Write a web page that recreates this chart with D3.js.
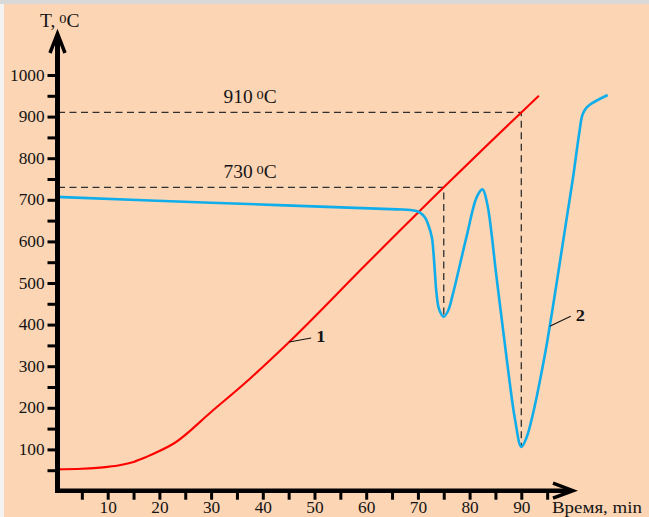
<!DOCTYPE html>
<html>
<head>
<meta charset="utf-8">
<script src="https://cdn.jsdelivr.net/npm/d3@7"></script>
<style>
  html, body { margin: 0; padding: 0; background: #ffffff; }
  svg { display: block; }
  text { font-family: "Liberation Serif", "Times New Roman", serif; fill: #141414; }
</style>
</head>
<body>
<svg id="chart" width="649" height="517"></svg>
<script>
// Curve 1: furnace heating (time in min, temperature in °C)
const heatTime = [0, 5, 10, 12.5, 15, 17.5, 20, 23, 30, 37.5, 45, 60, 75, 90, 93.4];
const heatTemp = [52, 53.5, 58, 62.5, 70, 82, 96, 116, 190, 270, 357, 545, 730, 910, 950];

// Curve 2: differential signal with the two transformation dips
const dtaTime = [0, 30, 66, 68.5, 69.7, 70.4, 71.4, 72, 72.7, 73, 73.3, 73.6, 74.1, 75, 75.8, 76.8, 79.4, 81.4, 82.5,
                 83.4, 85.2, 87.2, 88.8, 90, 91, 92, 93, 94, 95, 96, 97, 98, 99, 100, 101.2, 101.8, 102.4, 103.3, 106.7];
const dtaTemp = [707, 693, 677, 675.5, 673, 669, 657, 640, 610, 575, 523, 475, 437, 419, 432, 475, 611, 707, 725,
                 691, 515, 315, 171, 106, 128, 172, 228, 290, 358, 434, 513, 593, 673, 753, 860, 903, 918, 929, 952];

// Axis ticks
const yMajorTicks = [100, 200, 300, 400, 500, 600, 700, 800, 900, 1000];
const yMinorTicks = [50, 150, 250, 350, 450, 550, 650, 750, 850, 950];
const xMajorTicks = [10, 20, 30, 40, 50, 60, 70, 80, 90];
const xMinorTicks = [5, 15, 25, 35, 45, 55, 65, 75, 85, 95];

// Transformation points: time, temperature on curve 1, minimum of curve 2
const markTime = [75, 90];
const markTemp = [730, 910];
const markDip = [419, 106];

// Curve labels: time at which each leader touches its curve
const labelText = ["1", "2"];
const labelTime = [45.1, 95.5];

const svg = d3.select("#chart");
const W = 649, H = 517;
const SX = 1.08;           // slight horizontal stretch of the serif lettering

const x = d3.scaleLinear().domain([0, 100]).range([56, 573]);
const y = d3.scaleLinear().domain([0, 1000]).range([491, 75]);

// Frame and background
svg.append("rect").attr("x", 0).attr("y", 0).attr("width", W).attr("height", H).attr("fill", "#f3f3f3");
svg.append("rect").attr("x", 0).attr("y", 0).attr("width", W).attr("height", 4).attr("fill", "#d9d9d9");
svg.append("rect").attr("x", 4).attr("y", 4).attr("width", W - 4).attr("height", H - 4).attr("fill", "#fcd5b5");

// Text with a raised "0" before C for degrees
function degreeLabel(px, py, main, size) {
  const t = svg.append("text")
    .attr("transform", `translate(${px},${py}) scale(${SX},1)`)
    .attr("font-size", size);
  t.append("tspan").text(main);
  t.append("tspan").attr("font-size", size * 0.74).attr("dy", -4.5).text("0");
  t.append("tspan").attr("dy", 4.5).text("C");
  return t;
}

// Dashed guide lines at the transformation temperatures
const guides = svg.append("g")
  .attr("fill", "none").attr("stroke", "#303030").attr("stroke-width", 1.3).attr("stroke-dasharray", "7,4.5");
markTime.forEach((t, i) => {
  guides.append("path")
    .attr("d", `M${x(0) + 2},${y(markTemp[i])}H${x(t)}V${y(markDip[i])}`);
});
markTemp.forEach(v => degreeLabel(223.5, y(v) - 9, v + "\u2009", 18));

const heatCurve = d3.line().x(d => x(d[0])).y(d => y(d[1])).curve(d3.curveMonotoneX);
const dtaCurve = d3.line().x(d => x(d[0])).y(d => y(d[1])).curve(d3.curveCatmullRom.alpha(0.5));

svg.append("path")
  .datum(heatTime.map((t, i) => [t, heatTemp[i]]))
  .attr("d", heatCurve)
  .attr("fill", "none").attr("stroke", "#ff0000").attr("stroke-width", 2.1);

svg.append("path")
  .datum(dtaTime.map((t, i) => [t, dtaTemp[i]]))
  .attr("d", dtaCurve)
  .attr("fill", "none").attr("stroke", "#0fadea").attr("stroke-width", 2.6)
  .attr("stroke-linejoin", "round");

// Curve labels with leader lines
const series = [[heatTime, heatTemp], [dtaTime, dtaTemp]];
const leaderDx = [22, 21], leaderDy = [-4, -10];
labelText.forEach((s, i) => {
  const at = d3.scaleLinear().domain(series[i][0]).range(series[i][1]);
  const px = x(labelTime[i]), py = y(at(labelTime[i]));
  svg.append("line")
    .attr("x1", px).attr("y1", py)
    .attr("x2", px + leaderDx[i]).attr("y2", py + leaderDy[i])
    .attr("stroke", "#141414").attr("stroke-width", 1.2);
  svg.append("text")
    .attr("transform", `translate(${px + leaderDx[i] + 5},${py + leaderDy[i] + 4.5}) scale(${SX},1)`)
    .attr("font-size", 17).attr("font-weight", "bold").text(s);
});

// Y axis
const yAxisX = 57.5;
svg.append("g").attr("transform", `translate(${yAxisX},0)`)
  .call(d3.axisLeft(y).tickValues(yMajorTicks).tickSize(10).tickPadding(2).tickFormat(d3.format("d")));
svg.append("g").attr("transform", `translate(${yAxisX},0)`)
  .call(d3.axisLeft(y).tickValues(yMinorTicks).tickSize(10).tickFormat(""));

// X axis
const xAxisY = 490.7;
svg.append("g").attr("transform", `translate(0,${xAxisY})`)
  .call(d3.axisBottom(x).tickValues(xMajorTicks).tickSize(9).tickPadding(2).tickFormat(d3.format("d")));
svg.append("g").attr("transform", `translate(0,${xAxisY})`)
  .call(d3.axisBottom(x).tickValues(xMinorTicks).tickSize(9).tickFormat(""));

svg.selectAll(".domain").remove();
svg.selectAll(".tick line").attr("stroke", "#000").attr("stroke-width", 3);
svg.selectAll(".tick text")
  .attr("font-family", "Liberation Serif, serif").attr("font-size", 16).attr("fill", "#141414")
  .attr("transform", `scale(${SX},1)`);

// Axis lines and open arrowheads
svg.append("line").attr("x1", yAxisX).attr("y1", xAxisY + 2.3).attr("x2", yAxisX).attr("y2", 35)
  .attr("stroke", "#000").attr("stroke-width", 5);
svg.append("line").attr("x1", yAxisX - 2.5).attr("y1", xAxisY).attr("x2", x(100) - 2).attr("y2", xAxisY)
  .attr("stroke", "#000").attr("stroke-width", 4.5);
svg.append("polyline").attr("points", `${yAxisX - 7.5},53 ${yAxisX},33.5 ${yAxisX + 7.5},53`)
  .attr("fill", "none").attr("stroke", "#000").attr("stroke-width", 3.5);
svg.append("polyline").attr("points", `${x(100) - 20},${xAxisY - 7.5} ${x(100)},${xAxisY} ${x(100) - 20},${xAxisY + 7.5}`)
  .attr("fill", "none").attr("stroke", "#000").attr("stroke-width", 3.5);

// Axis titles
degreeLabel(40, 27, "T,\u2009", 18);
svg.append("text")
  .attr("transform", `translate(552,513) scale(${SX},1)`)
  .attr("font-size", 17.5).text("Время, min");
</script>
</body>
</html>
